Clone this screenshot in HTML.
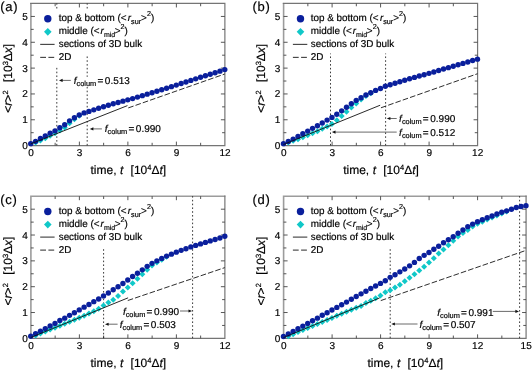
<!DOCTYPE html>
<html><head><meta charset="utf-8"><title>figure</title>
<style>html,body{margin:0;padding:0;background:#fff;}svg text{font-family:"Liberation Sans",sans-serif;text-rendering:geometricPrecision;stroke:#000;stroke-width:0.18px;}</style>
</head><body>
<svg width="532" height="370" viewBox="0 0 532 370" style="display:block;will-change:transform">
<rect width="532" height="370" fill="#fff"/>
<g id="panel-a">
<path d="M30.9 146.2V2.95" fill="none" stroke="#9c9c9c" stroke-width="1.6"/>
<path d="M30.1 145.6H224.88V3.45H30.1" fill="none" stroke="#757575" stroke-width="1.2"/>
<path d="M55.15 145.6v-2.8M55.15 3.45v2.8M79.39 145.6v-4M79.39 3.45v4M103.64 145.6v-2.8M103.64 3.45v2.8M127.89 145.6v-4M127.89 3.45v4M152.14 145.6v-2.8M152.14 3.45v2.8M176.38 145.6v-4M176.38 3.45v4M200.63 145.6v-2.8M200.63 3.45v2.8M30.9 132.69h2.8M224.88 132.69h-2.8M30.9 119.77h4M224.88 119.77h-4M30.9 106.85h2.8M224.88 106.85h-2.8M30.9 93.94h4M224.88 93.94h-4M30.9 81.03h2.8M224.88 81.03h-2.8M30.9 68.11h4M224.88 68.11h-4M30.9 55.19h2.8M224.88 55.19h-2.8M30.9 42.28h4M224.88 42.28h-4M30.9 29.37h2.8M224.88 29.37h-2.8M30.9 16.45h4M224.88 16.45h-4" stroke="#444" stroke-width="0.9" fill="none"/>
<line x1="56.8" y1="8.5" x2="56.8" y2="3.4" stroke="#222" stroke-width="0.9" stroke-dasharray="1.6 2.2"/>
<line x1="56.8" y1="145.45" x2="56.8" y2="66" stroke="#222" stroke-width="0.9" stroke-dasharray="1.6 2.2"/>
<line x1="87.2" y1="8.5" x2="87.2" y2="3.4" stroke="#222" stroke-width="0.9" stroke-dasharray="1.6 2.2"/>
<line x1="87.2" y1="145.45" x2="87.2" y2="54.5" stroke="#222" stroke-width="0.9" stroke-dasharray="1.6 2.2"/>
<path d="M32.6 142.61L35.6 139.61L38.6 142.61L35.6 145.61Z" fill="#10c8c8"/>
<path d="M37.45 140.56L40.45 137.56L43.45 140.56L40.45 143.56Z" fill="#10c8c8"/>
<path d="M42.3 138.26L45.3 135.26L48.3 138.26L45.3 141.26Z" fill="#10c8c8"/>
<path d="M47.15 135.7L50.15 132.7L53.15 135.7L50.15 138.7Z" fill="#10c8c8"/>
<path d="M52.01 133.14L55.01 130.14L58.01 133.14L55.01 136.14Z" fill="#10c8c8"/>
<path d="M56.86 130.58L59.86 127.58L62.86 130.58L59.86 133.58Z" fill="#10c8c8"/>
<path d="M61.71 127.5L64.71 124.5L67.71 127.5L64.71 130.5Z" fill="#10c8c8"/>
<path d="M66.56 123.15L69.56 120.15L72.56 123.15L69.56 126.15Z" fill="#10c8c8"/>
<path d="M71.41 119.31L74.41 116.31L77.41 119.31L74.41 122.31Z" fill="#10c8c8"/>
<path d="M76.26 115.73L79.26 112.73L82.26 115.73L79.26 118.73Z" fill="#10c8c8"/>
<circle cx="30.75" cy="143.63" r="2.7" fill="#0a1f9c"/>
<circle cx="35.6" cy="141.33" r="2.7" fill="#0a1f9c"/>
<circle cx="40.45" cy="138.51" r="2.7" fill="#0a1f9c"/>
<circle cx="45.3" cy="135.95" r="2.7" fill="#0a1f9c"/>
<circle cx="50.15" cy="133.14" r="2.7" fill="#0a1f9c"/>
<circle cx="55.01" cy="130.83" r="2.7" fill="#0a1f9c"/>
<circle cx="59.86" cy="127.76" r="2.7" fill="#0a1f9c"/>
<circle cx="64.71" cy="124.69" r="2.7" fill="#0a1f9c"/>
<circle cx="69.56" cy="120.85" r="2.7" fill="#0a1f9c"/>
<circle cx="74.41" cy="117.78" r="2.7" fill="#0a1f9c"/>
<circle cx="79.26" cy="114.96" r="2.7" fill="#0a1f9c"/>
<circle cx="84.11" cy="112.91" r="2.7" fill="#0a1f9c"/>
<circle cx="88.96" cy="111.38" r="2.7" fill="#0a1f9c"/>
<circle cx="93.81" cy="109.84" r="2.7" fill="#0a1f9c"/>
<circle cx="98.66" cy="108.3" r="2.7" fill="#0a1f9c"/>
<circle cx="103.52" cy="106.77" r="2.7" fill="#0a1f9c"/>
<circle cx="108.37" cy="105.23" r="2.7" fill="#0a1f9c"/>
<circle cx="113.22" cy="103.82" r="2.7" fill="#0a1f9c"/>
<circle cx="118.07" cy="102.54" r="2.7" fill="#0a1f9c"/>
<circle cx="122.92" cy="101.14" r="2.7" fill="#0a1f9c"/>
<circle cx="127.77" cy="99.86" r="2.7" fill="#0a1f9c"/>
<circle cx="132.62" cy="98.58" r="2.7" fill="#0a1f9c"/>
<circle cx="137.47" cy="97.1" r="2.7" fill="#0a1f9c"/>
<circle cx="142.32" cy="95.63" r="2.7" fill="#0a1f9c"/>
<circle cx="147.17" cy="94.16" r="2.7" fill="#0a1f9c"/>
<circle cx="152.03" cy="92.69" r="2.7" fill="#0a1f9c"/>
<circle cx="156.88" cy="91.18" r="2.7" fill="#0a1f9c"/>
<circle cx="161.73" cy="89.68" r="2.7" fill="#0a1f9c"/>
<circle cx="166.58" cy="88.18" r="2.7" fill="#0a1f9c"/>
<circle cx="171.43" cy="86.67" r="2.7" fill="#0a1f9c"/>
<circle cx="176.28" cy="85.1" r="2.7" fill="#0a1f9c"/>
<circle cx="181.13" cy="83.54" r="2.7" fill="#0a1f9c"/>
<circle cx="185.98" cy="81.97" r="2.7" fill="#0a1f9c"/>
<circle cx="190.83" cy="80.4" r="2.7" fill="#0a1f9c"/>
<circle cx="195.68" cy="78.86" r="2.7" fill="#0a1f9c"/>
<circle cx="200.54" cy="77.31" r="2.7" fill="#0a1f9c"/>
<circle cx="205.39" cy="75.77" r="2.7" fill="#0a1f9c"/>
<circle cx="210.24" cy="74.23" r="2.7" fill="#0a1f9c"/>
<circle cx="215.09" cy="72.68" r="2.7" fill="#0a1f9c"/>
<circle cx="219.94" cy="71.14" r="2.7" fill="#0a1f9c"/>
<circle cx="224.79" cy="69.6" r="2.7" fill="#0a1f9c"/>
<line x1="128.26" y1="107.92" x2="224.79" y2="74" stroke="#222" stroke-width="0.95" stroke-dasharray="5.6 2.1"/>
<line x1="30.75" y1="143.9" x2="127.45" y2="105.62" stroke="#111" stroke-width="0.9"/>
<g font-size="10" fill="#000">
<text x="31" y="156.3" text-anchor="middle">0</text>
<text x="79.49" y="156.3" text-anchor="middle">3</text>
<text x="127.99" y="156.3" text-anchor="middle">6</text>
<text x="176.48" y="156.3" text-anchor="middle">9</text>
<text x="224.98" y="156.3" text-anchor="middle">12</text>
<text x="27.7" y="149.1" text-anchor="end">0</text>
<text x="27.7" y="123.27" text-anchor="end">1</text>
<text x="27.7" y="97.44" text-anchor="end">2</text>
<text x="27.7" y="71.61" text-anchor="end">3</text>
<text x="27.7" y="45.78" text-anchor="end">4</text>
<text x="27.7" y="19.95" text-anchor="end">5</text>
</g>
<text font-size="12" fill="#000" y="174.45"><tspan x="90.49">time, </tspan><tspan font-style="italic" x="119.99">t</tspan><tspan x="130.59">[10</tspan><tspan font-size="7.5" dy="-4.3">4</tspan><tspan dy="4.3">Δ</tspan><tspan font-style="italic">t</tspan><tspan>]</tspan></text>
<g transform="translate(12.3 112.65) rotate(-90)"><text font-size="12" fill="#000" y="0"><tspan x="0">&lt;</tspan><tspan font-style="italic">r</tspan><tspan>&gt;</tspan><tspan font-size="7.5" dy="-4.3">2</tspan><tspan dy="4.3" x="30.6">[10</tspan><tspan font-size="7.5" dy="-4.3">3</tspan><tspan dy="4.3">Δ</tspan><tspan font-style="italic">x</tspan><tspan>]</tspan></text></g>
<text font-size="13" letter-spacing="0.7" fill="#000" x="0.2" y="10.8">(a)</text>
<circle cx="47.8" cy="18.75" r="3.7" fill="#0a1f9c"/>
<path d="M44 31.85L47.8 28.05L51.6 31.85L47.8 35.65Z" fill="#10c8c8"/>
<line x1="40.2" y1="44.35" x2="54.6" y2="44.35" stroke="#111" stroke-width="0.9"/>
<line x1="40.2" y1="57.35" x2="54.3" y2="57.35" stroke="#111" stroke-width="0.9" stroke-dasharray="5.8 2.4"/>
<g font-size="9.9" fill="#000">
<text x="58.7" y="21.45">top &amp; bottom (&lt;<tspan dx="1.3" font-style="italic">r</tspan><tspan font-size="7.2" dy="2.5">sur</tspan><tspan dy="-2.5">&gt;</tspan><tspan font-size="7.2" dy="-5">2</tspan><tspan dy="5">)</tspan></text>
<text x="58.7" y="34.35">middle (&lt;<tspan dx="1.0" font-style="italic">r</tspan><tspan font-size="7.0" dy="2.5">mid</tspan><tspan dy="-2.5" dx="-0.4">&gt;</tspan><tspan font-size="7.2" dy="-5">2</tspan><tspan dy="5">)</tspan></text>
<text x="58.7" y="47.45">sections of 3D bulk</text>
<text x="58.7" y="60.15">2D</text>
</g>
</g>
<g id="panel-b">
<path d="M283.6 146.2V2.95" fill="none" stroke="#9c9c9c" stroke-width="1.6"/>
<path d="M282.8 145.6H477.58V3.45H282.8" fill="none" stroke="#757575" stroke-width="1.2"/>
<path d="M307.85 145.6v-2.8M307.85 3.45v2.8M332.1 145.6v-4M332.1 3.45v4M356.34 145.6v-2.8M356.34 3.45v2.8M380.59 145.6v-4M380.59 3.45v4M404.84 145.6v-2.8M404.84 3.45v2.8M429.09 145.6v-4M429.09 3.45v4M453.33 145.6v-2.8M453.33 3.45v2.8M283.6 132.69h2.8M477.58 132.69h-2.8M283.6 119.77h4M477.58 119.77h-4M283.6 106.85h2.8M477.58 106.85h-2.8M283.6 93.94h4M477.58 93.94h-4M283.6 81.03h2.8M477.58 81.03h-2.8M283.6 68.11h4M477.58 68.11h-4M283.6 55.19h2.8M477.58 55.19h-2.8M283.6 42.28h4M477.58 42.28h-4M283.6 29.37h2.8M477.58 29.37h-2.8M283.6 16.45h4M477.58 16.45h-4" stroke="#444" stroke-width="0.9" fill="none"/>
<line x1="330.5" y1="145.45" x2="330.5" y2="53.5" stroke="#222" stroke-width="0.9" stroke-dasharray="1.6 2.2"/>
<line x1="385.6" y1="145.45" x2="385.6" y2="53.5" stroke="#222" stroke-width="0.9" stroke-dasharray="1.6 2.2"/>
<path d="M285.3 142.61L288.3 139.61L291.3 142.61L288.3 145.61Z" fill="#10c8c8"/>
<path d="M290.15 140.82L293.15 137.82L296.15 140.82L293.15 143.82Z" fill="#10c8c8"/>
<path d="M295 139.22L298 136.22L301 139.22L298 142.22Z" fill="#10c8c8"/>
<path d="M299.85 137.23L302.85 134.23L305.85 137.23L302.85 140.23Z" fill="#10c8c8"/>
<path d="M304.71 135.25L307.71 132.25L310.71 135.25L307.71 138.25Z" fill="#10c8c8"/>
<path d="M309.56 133.26L312.56 130.26L315.56 133.26L312.56 136.26Z" fill="#10c8c8"/>
<path d="M314.41 131.28L317.41 128.28L320.41 131.28L317.41 134.28Z" fill="#10c8c8"/>
<path d="M319.26 128.78L322.26 125.78L325.26 128.78L322.26 131.78Z" fill="#10c8c8"/>
<path d="M324.11 126.48L327.11 123.48L330.11 126.48L327.11 129.48Z" fill="#10c8c8"/>
<path d="M328.96 123.92L331.96 120.92L334.96 123.92L331.96 126.92Z" fill="#10c8c8"/>
<path d="M333.81 120.34L336.81 117.34L339.81 120.34L336.81 123.34Z" fill="#10c8c8"/>
<path d="M338.66 115.98L341.66 112.98L344.66 115.98L341.66 118.98Z" fill="#10c8c8"/>
<path d="M343.51 111.71L346.51 108.71L349.51 111.71L346.51 114.71Z" fill="#10c8c8"/>
<path d="M348.36 107.43L351.36 104.43L354.36 107.43L351.36 110.43Z" fill="#10c8c8"/>
<path d="M353.22 103.44L356.22 100.44L359.22 103.44L356.22 106.44Z" fill="#10c8c8"/>
<path d="M358.07 99.45L361.07 96.45L364.07 99.45L361.07 102.45Z" fill="#10c8c8"/>
<path d="M362.92 96.02L365.92 93.02L368.92 96.02L365.92 99.02Z" fill="#10c8c8"/>
<path d="M367.77 93.2L370.77 90.2L373.77 93.2L370.77 96.2Z" fill="#10c8c8"/>
<circle cx="283.45" cy="143.63" r="2.7" fill="#0a1f9c"/>
<circle cx="288.3" cy="141.51" r="2.7" fill="#0a1f9c"/>
<circle cx="293.15" cy="139.1" r="2.7" fill="#0a1f9c"/>
<circle cx="298" cy="136.4" r="2.7" fill="#0a1f9c"/>
<circle cx="302.85" cy="133.72" r="2.7" fill="#0a1f9c"/>
<circle cx="307.71" cy="131.09" r="2.7" fill="#0a1f9c"/>
<circle cx="312.56" cy="128.37" r="2.7" fill="#0a1f9c"/>
<circle cx="317.41" cy="125.71" r="2.7" fill="#0a1f9c"/>
<circle cx="322.26" cy="123.02" r="2.7" fill="#0a1f9c"/>
<circle cx="327.11" cy="120.08" r="2.7" fill="#0a1f9c"/>
<circle cx="331.96" cy="117.42" r="2.7" fill="#0a1f9c"/>
<circle cx="336.81" cy="114.27" r="2.7" fill="#0a1f9c"/>
<circle cx="341.66" cy="110.86" r="2.7" fill="#0a1f9c"/>
<circle cx="346.51" cy="107.2" r="2.7" fill="#0a1f9c"/>
<circle cx="351.36" cy="103.8" r="2.7" fill="#0a1f9c"/>
<circle cx="356.22" cy="100.39" r="2.7" fill="#0a1f9c"/>
<circle cx="361.07" cy="97.71" r="2.7" fill="#0a1f9c"/>
<circle cx="365.92" cy="94.99" r="2.7" fill="#0a1f9c"/>
<circle cx="370.77" cy="92.69" r="2.7" fill="#0a1f9c"/>
<circle cx="375.62" cy="90.38" r="2.7" fill="#0a1f9c"/>
<circle cx="380.47" cy="88.46" r="2.7" fill="#0a1f9c"/>
<circle cx="385.32" cy="86.29" r="2.7" fill="#0a1f9c"/>
<circle cx="390.17" cy="84.78" r="2.7" fill="#0a1f9c"/>
<circle cx="395.02" cy="83.27" r="2.7" fill="#0a1f9c"/>
<circle cx="399.87" cy="81.76" r="2.7" fill="#0a1f9c"/>
<circle cx="404.73" cy="80.25" r="2.7" fill="#0a1f9c"/>
<circle cx="409.58" cy="78.74" r="2.7" fill="#0a1f9c"/>
<circle cx="414.43" cy="77.39" r="2.7" fill="#0a1f9c"/>
<circle cx="419.28" cy="76.05" r="2.7" fill="#0a1f9c"/>
<circle cx="424.13" cy="74.7" r="2.7" fill="#0a1f9c"/>
<circle cx="428.98" cy="73.36" r="2.7" fill="#0a1f9c"/>
<circle cx="433.83" cy="71.93" r="2.7" fill="#0a1f9c"/>
<circle cx="438.68" cy="70.49" r="2.7" fill="#0a1f9c"/>
<circle cx="443.53" cy="69.06" r="2.7" fill="#0a1f9c"/>
<circle cx="448.38" cy="67.63" r="2.7" fill="#0a1f9c"/>
<circle cx="453.24" cy="66.19" r="2.7" fill="#0a1f9c"/>
<circle cx="458.09" cy="64.78" r="2.7" fill="#0a1f9c"/>
<circle cx="462.94" cy="63.38" r="2.7" fill="#0a1f9c"/>
<circle cx="467.79" cy="61.97" r="2.7" fill="#0a1f9c"/>
<circle cx="472.64" cy="60.56" r="2.7" fill="#0a1f9c"/>
<circle cx="477.49" cy="59.15" r="2.7" fill="#0a1f9c"/>
<line x1="380.96" y1="107.79" x2="477.49" y2="73.74" stroke="#222" stroke-width="0.95" stroke-dasharray="5.6 2.1"/>
<line x1="283.45" y1="144.5" x2="380.15" y2="105.23" stroke="#111" stroke-width="0.9"/>
<g font-size="10" fill="#000">
<text x="283.7" y="156.3" text-anchor="middle">0</text>
<text x="332.2" y="156.3" text-anchor="middle">3</text>
<text x="380.69" y="156.3" text-anchor="middle">6</text>
<text x="429.19" y="156.3" text-anchor="middle">9</text>
<text x="477.68" y="156.3" text-anchor="middle">12</text>
<text x="280.4" y="149.1" text-anchor="end">0</text>
<text x="280.4" y="123.27" text-anchor="end">1</text>
<text x="280.4" y="97.44" text-anchor="end">2</text>
<text x="280.4" y="71.61" text-anchor="end">3</text>
<text x="280.4" y="45.78" text-anchor="end">4</text>
<text x="280.4" y="19.95" text-anchor="end">5</text>
</g>
<text font-size="12" fill="#000" y="174.45"><tspan x="343.19">time, </tspan><tspan font-style="italic" x="372.69">t</tspan><tspan x="383.29">[10</tspan><tspan font-size="7.5" dy="-4.3">4</tspan><tspan dy="4.3">Δ</tspan><tspan font-style="italic">t</tspan><tspan>]</tspan></text>
<g transform="translate(265 112.65) rotate(-90)"><text font-size="12" fill="#000" y="0"><tspan x="0">&lt;</tspan><tspan font-style="italic">r</tspan><tspan>&gt;</tspan><tspan font-size="7.5" dy="-4.3">2</tspan><tspan dy="4.3" x="30.6">[10</tspan><tspan font-size="7.5" dy="-4.3">3</tspan><tspan dy="4.3">Δ</tspan><tspan font-style="italic">x</tspan><tspan>]</tspan></text></g>
<text font-size="13" letter-spacing="0.7" fill="#000" x="252.5" y="10.8">(b)</text>
<circle cx="300.5" cy="18.75" r="3.7" fill="#0a1f9c"/>
<path d="M296.7 31.85L300.5 28.05L304.3 31.85L300.5 35.65Z" fill="#10c8c8"/>
<line x1="292.9" y1="44.35" x2="307.3" y2="44.35" stroke="#111" stroke-width="0.9"/>
<line x1="292.9" y1="57.35" x2="307" y2="57.35" stroke="#111" stroke-width="0.9" stroke-dasharray="5.8 2.4"/>
<g font-size="9.9" fill="#000">
<text x="310.8" y="21.45">top &amp; bottom (&lt;<tspan dx="1.3" font-style="italic">r</tspan><tspan font-size="7.2" dy="2.5">sur</tspan><tspan dy="-2.5">&gt;</tspan><tspan font-size="7.2" dy="-5">2</tspan><tspan dy="5">)</tspan></text>
<text x="310.8" y="34.35">middle (&lt;<tspan dx="1.0" font-style="italic">r</tspan><tspan font-size="7.0" dy="2.5">mid</tspan><tspan dy="-2.5" dx="-0.4">&gt;</tspan><tspan font-size="7.2" dy="-5">2</tspan><tspan dy="5">)</tspan></text>
<text x="310.8" y="47.45">sections of 3D bulk</text>
<text x="310.8" y="60.15">2D</text>
</g>
</g>
<g id="panel-c">
<path d="M30.9 338.95V196.2H225.38" fill="none" stroke="#9c9c9c" stroke-width="1.6"/>
<path d="M30.1 338.35H224.88V195.4" fill="none" stroke="#757575" stroke-width="1.2"/>
<path d="M55.15 338.35v-2.8M55.15 196.2v2.8M79.39 338.35v-4M79.39 196.2v4M103.64 338.35v-2.8M103.64 196.2v2.8M127.89 338.35v-4M127.89 196.2v4M152.14 338.35v-2.8M152.14 196.2v2.8M176.38 338.35v-4M176.38 196.2v4M200.63 338.35v-2.8M200.63 196.2v2.8M30.9 325.44h2.8M224.88 325.44h-2.8M30.9 312.52h4M224.88 312.52h-4M30.9 299.61h2.8M224.88 299.61h-2.8M30.9 286.69h4M224.88 286.69h-4M30.9 273.78h2.8M224.88 273.78h-2.8M30.9 260.86h4M224.88 260.86h-4M30.9 247.95h2.8M224.88 247.95h-2.8M30.9 235.03h4M224.88 235.03h-4M30.9 222.12h2.8M224.88 222.12h-2.8M30.9 209.2h4M224.88 209.2h-4" stroke="#444" stroke-width="0.9" fill="none"/>
<line x1="103.6" y1="338.2" x2="103.6" y2="247" stroke="#222" stroke-width="0.9" stroke-dasharray="1.6 2.2"/>
<line x1="192.6" y1="338.2" x2="192.6" y2="196.15" stroke="#222" stroke-width="0.9" stroke-dasharray="1.6 2.2"/>
<path d="M32.6 335.54L35.6 332.54L38.6 335.54L35.6 338.54Z" fill="#10c8c8"/>
<path d="M37.45 333.56L40.45 330.56L43.45 333.56L40.45 336.56Z" fill="#10c8c8"/>
<path d="M42.3 331.58L45.3 328.58L48.3 331.58L45.3 334.58Z" fill="#10c8c8"/>
<path d="M47.15 329.61L50.15 326.61L53.15 329.61L50.15 332.61Z" fill="#10c8c8"/>
<path d="M52.01 327.63L55.01 324.63L58.01 327.63L55.01 330.63Z" fill="#10c8c8"/>
<path d="M56.86 325.65L59.86 322.65L62.86 325.65L59.86 328.65Z" fill="#10c8c8"/>
<path d="M61.71 323.68L64.71 320.68L67.71 323.68L64.71 326.68Z" fill="#10c8c8"/>
<path d="M66.56 321.7L69.56 318.7L72.56 321.7L69.56 324.7Z" fill="#10c8c8"/>
<path d="M71.41 319.73L74.41 316.73L77.41 319.73L74.41 322.73Z" fill="#10c8c8"/>
<path d="M76.26 317.75L79.26 314.75L82.26 317.75L79.26 320.75Z" fill="#10c8c8"/>
<path d="M81.11 315.75L84.11 312.75L87.11 315.75L84.11 318.75Z" fill="#10c8c8"/>
<path d="M85.96 313.58L88.96 310.58L91.96 313.58L88.96 316.58Z" fill="#10c8c8"/>
<path d="M90.81 311.14L93.81 308.14L96.81 311.14L93.81 314.14Z" fill="#10c8c8"/>
<path d="M95.66 308.71L98.66 305.71L101.66 308.71L98.66 311.71Z" fill="#10c8c8"/>
<path d="M100.52 305.51L103.52 302.51L106.52 305.51L103.52 308.51Z" fill="#10c8c8"/>
<path d="M105.37 302.57L108.37 299.57L111.37 302.57L108.37 305.57Z" fill="#10c8c8"/>
<path d="M110.22 299.7L113.22 296.7L116.22 299.7L113.22 302.7Z" fill="#10c8c8"/>
<path d="M115.07 296.04L118.07 293.04L121.07 296.04L118.07 299.04Z" fill="#10c8c8"/>
<path d="M119.92 291.51L122.92 288.51L125.92 291.51L122.92 294.51Z" fill="#10c8c8"/>
<path d="M124.77 287.41L127.77 284.41L130.77 287.41L127.77 290.41Z" fill="#10c8c8"/>
<path d="M129.62 283.16L132.62 280.16L135.62 283.16L132.62 286.16Z" fill="#10c8c8"/>
<path d="M134.47 278.68L137.47 275.68L140.47 278.68L137.47 281.68Z" fill="#10c8c8"/>
<path d="M139.32 274.23L142.32 271.23L145.32 274.23L142.32 277.23Z" fill="#10c8c8"/>
<path d="M144.17 269.67L147.17 266.67L150.17 269.67L147.17 272.67Z" fill="#10c8c8"/>
<path d="M149.03 265.58L152.03 262.58L155.03 265.58L152.03 268.58Z" fill="#10c8c8"/>
<path d="M153.88 262.5L156.88 259.5L159.88 262.5L156.88 265.5Z" fill="#10c8c8"/>
<path d="M158.73 259.69L161.73 256.69L164.73 259.69L161.73 262.69Z" fill="#10c8c8"/>
<path d="M163.58 256.87L166.58 253.87L169.58 256.87L166.58 259.87Z" fill="#10c8c8"/>
<circle cx="30.75" cy="336.31" r="2.7" fill="#0a1f9c"/>
<circle cx="35.6" cy="333.8" r="2.7" fill="#0a1f9c"/>
<circle cx="40.45" cy="331.29" r="2.7" fill="#0a1f9c"/>
<circle cx="45.3" cy="328.58" r="2.7" fill="#0a1f9c"/>
<circle cx="50.15" cy="325.89" r="2.7" fill="#0a1f9c"/>
<circle cx="55.01" cy="323.38" r="2.7" fill="#0a1f9c"/>
<circle cx="59.86" cy="320.56" r="2.7" fill="#0a1f9c"/>
<circle cx="64.71" cy="318.16" r="2.7" fill="#0a1f9c"/>
<circle cx="69.56" cy="315.37" r="2.7" fill="#0a1f9c"/>
<circle cx="74.41" cy="312.68" r="2.7" fill="#0a1f9c"/>
<circle cx="79.26" cy="309.89" r="2.7" fill="#0a1f9c"/>
<circle cx="84.11" cy="307.15" r="2.7" fill="#0a1f9c"/>
<circle cx="88.96" cy="304.44" r="2.7" fill="#0a1f9c"/>
<circle cx="93.81" cy="301.67" r="2.7" fill="#0a1f9c"/>
<circle cx="98.66" cy="298.93" r="2.7" fill="#0a1f9c"/>
<circle cx="103.52" cy="295.91" r="2.7" fill="#0a1f9c"/>
<circle cx="108.37" cy="292.97" r="2.7" fill="#0a1f9c"/>
<circle cx="113.22" cy="289.72" r="2.7" fill="#0a1f9c"/>
<circle cx="118.07" cy="286.7" r="2.7" fill="#0a1f9c"/>
<circle cx="122.92" cy="283.5" r="2.7" fill="#0a1f9c"/>
<circle cx="127.77" cy="279.99" r="2.7" fill="#0a1f9c"/>
<circle cx="132.62" cy="276.48" r="2.7" fill="#0a1f9c"/>
<circle cx="137.47" cy="273.31" r="2.7" fill="#0a1f9c"/>
<circle cx="142.32" cy="269.83" r="2.7" fill="#0a1f9c"/>
<circle cx="147.17" cy="266.34" r="2.7" fill="#0a1f9c"/>
<circle cx="152.03" cy="263.35" r="2.7" fill="#0a1f9c"/>
<circle cx="156.88" cy="260.84" r="2.7" fill="#0a1f9c"/>
<circle cx="161.73" cy="258.41" r="2.7" fill="#0a1f9c"/>
<circle cx="166.58" cy="256.1" r="2.7" fill="#0a1f9c"/>
<circle cx="171.43" cy="254.13" r="2.7" fill="#0a1f9c"/>
<circle cx="176.28" cy="252.14" r="2.7" fill="#0a1f9c"/>
<circle cx="181.13" cy="250.37" r="2.7" fill="#0a1f9c"/>
<circle cx="185.98" cy="248.68" r="2.7" fill="#0a1f9c"/>
<circle cx="190.83" cy="246.89" r="2.7" fill="#0a1f9c"/>
<circle cx="195.68" cy="245.4" r="2.7" fill="#0a1f9c"/>
<circle cx="200.54" cy="243.92" r="2.7" fill="#0a1f9c"/>
<circle cx="205.39" cy="242.41" r="2.7" fill="#0a1f9c"/>
<circle cx="210.24" cy="240.92" r="2.7" fill="#0a1f9c"/>
<circle cx="215.09" cy="239.46" r="2.7" fill="#0a1f9c"/>
<circle cx="219.94" cy="237.93" r="2.7" fill="#0a1f9c"/>
<circle cx="224.79" cy="236.19" r="2.7" fill="#0a1f9c"/>
<line x1="127.77" y1="300.52" x2="224.79" y2="267.62" stroke="#222" stroke-width="0.95" stroke-dasharray="5.6 2.1"/>
<line x1="30.75" y1="337.5" x2="128.09" y2="297.83" stroke="#111" stroke-width="0.9"/>
<g font-size="10" fill="#000">
<text x="31" y="349.05" text-anchor="middle">0</text>
<text x="79.49" y="349.05" text-anchor="middle">3</text>
<text x="127.99" y="349.05" text-anchor="middle">6</text>
<text x="176.48" y="349.05" text-anchor="middle">9</text>
<text x="224.98" y="349.05" text-anchor="middle">12</text>
<text x="27.7" y="341.85" text-anchor="end">0</text>
<text x="27.7" y="316.02" text-anchor="end">1</text>
<text x="27.7" y="290.19" text-anchor="end">2</text>
<text x="27.7" y="264.36" text-anchor="end">3</text>
<text x="27.7" y="238.53" text-anchor="end">4</text>
<text x="27.7" y="212.7" text-anchor="end">5</text>
</g>
<text font-size="12" fill="#000" y="367.2"><tspan x="90.49">time, </tspan><tspan font-style="italic" x="119.99">t</tspan><tspan x="130.59">[10</tspan><tspan font-size="7.5" dy="-4.3">4</tspan><tspan dy="4.3">Δ</tspan><tspan font-style="italic">t</tspan><tspan>]</tspan></text>
<g transform="translate(12.3 305.4) rotate(-90)"><text font-size="12" fill="#000" y="0"><tspan x="0">&lt;</tspan><tspan font-style="italic">r</tspan><tspan>&gt;</tspan><tspan font-size="7.5" dy="-4.3">2</tspan><tspan dy="4.3" x="30.6">[10</tspan><tspan font-size="7.5" dy="-4.3">3</tspan><tspan dy="4.3">Δ</tspan><tspan font-style="italic">x</tspan><tspan>]</tspan></text></g>
<text font-size="13" letter-spacing="0.7" fill="#000" x="0.2" y="203.6">(c)</text>
<circle cx="47.8" cy="211.5" r="3.7" fill="#0a1f9c"/>
<path d="M44 224.6L47.8 220.8L51.6 224.6L47.8 228.4Z" fill="#10c8c8"/>
<line x1="40.2" y1="237.1" x2="54.6" y2="237.1" stroke="#111" stroke-width="0.9"/>
<line x1="40.2" y1="250.1" x2="54.3" y2="250.1" stroke="#111" stroke-width="0.9" stroke-dasharray="5.8 2.4"/>
<g font-size="9.9" fill="#000">
<text x="58.7" y="214.2">top &amp; bottom (&lt;<tspan dx="1.3" font-style="italic">r</tspan><tspan font-size="7.2" dy="2.5">sur</tspan><tspan dy="-2.5">&gt;</tspan><tspan font-size="7.2" dy="-5">2</tspan><tspan dy="5">)</tspan></text>
<text x="58.7" y="227.1">middle (&lt;<tspan dx="1.0" font-style="italic">r</tspan><tspan font-size="7.0" dy="2.5">mid</tspan><tspan dy="-2.5" dx="-0.4">&gt;</tspan><tspan font-size="7.2" dy="-5">2</tspan><tspan dy="5">)</tspan></text>
<text x="58.7" y="240.2">sections of 3D bulk</text>
<text x="58.7" y="252.9">2D</text>
</g>
</g>
<g id="panel-d">
<path d="M283.6 338.95V196.2H526.58" fill="none" stroke="#9c9c9c" stroke-width="1.6"/>
<path d="M282.8 338.35H526.08V195.4" fill="none" stroke="#757575" stroke-width="1.2"/>
<path d="M307.85 338.35v-2.8M307.85 196.2v2.8M332.1 338.35v-4M332.1 196.2v4M356.34 338.35v-2.8M356.34 196.2v2.8M380.59 338.35v-4M380.59 196.2v4M404.84 338.35v-2.8M404.84 196.2v2.8M429.09 338.35v-4M429.09 196.2v4M453.33 338.35v-2.8M453.33 196.2v2.8M477.58 338.35v-4M477.58 196.2v4M501.83 338.35v-2.8M501.83 196.2v2.8M283.6 325.44h2.8M526.08 325.44h-2.8M283.6 312.52h4M526.08 312.52h-4M283.6 299.61h2.8M526.08 299.61h-2.8M283.6 286.69h4M526.08 286.69h-4M283.6 273.78h2.8M526.08 273.78h-2.8M283.6 260.86h4M526.08 260.86h-4M283.6 247.95h2.8M526.08 247.95h-2.8M283.6 235.03h4M526.08 235.03h-4M283.6 222.12h2.8M526.08 222.12h-2.8M283.6 209.2h4M526.08 209.2h-4" stroke="#444" stroke-width="0.9" fill="none"/>
<line x1="390.2" y1="338.2" x2="390.2" y2="247" stroke="#222" stroke-width="0.9" stroke-dasharray="1.6 2.2"/>
<line x1="519.6" y1="338.2" x2="519.6" y2="196.15" stroke="#222" stroke-width="0.9" stroke-dasharray="1.6 2.2"/>
<path d="M285.3 336.17L288.3 333.17L291.3 336.17L288.3 339.17Z" fill="#10c8c8"/>
<path d="M290.15 334.14L293.15 331.14L296.15 334.14L293.15 337.14Z" fill="#10c8c8"/>
<path d="M295 332.11L298 329.11L301 332.11L298 335.11Z" fill="#10c8c8"/>
<path d="M299.85 330.07L302.85 327.07L305.85 330.07L302.85 333.07Z" fill="#10c8c8"/>
<path d="M304.71 328.04L307.71 325.04L310.71 328.04L307.71 331.04Z" fill="#10c8c8"/>
<path d="M309.56 326.01L312.56 323.01L315.56 326.01L312.56 329.01Z" fill="#10c8c8"/>
<path d="M314.41 323.97L317.41 320.97L320.41 323.97L317.41 326.97Z" fill="#10c8c8"/>
<path d="M319.26 321.94L322.26 318.94L325.26 321.94L322.26 324.94Z" fill="#10c8c8"/>
<path d="M324.11 319.91L327.11 316.91L330.11 319.91L327.11 322.91Z" fill="#10c8c8"/>
<path d="M328.96 317.88L331.96 314.88L334.96 317.88L331.96 320.88Z" fill="#10c8c8"/>
<path d="M333.81 315.84L336.81 312.84L339.81 315.84L336.81 318.84Z" fill="#10c8c8"/>
<path d="M338.66 313.81L341.66 310.81L344.66 313.81L341.66 316.81Z" fill="#10c8c8"/>
<path d="M343.51 311.78L346.51 308.78L349.51 311.78L346.51 314.78Z" fill="#10c8c8"/>
<path d="M348.36 309.75L351.36 306.75L354.36 309.75L351.36 312.75Z" fill="#10c8c8"/>
<path d="M353.22 307.71L356.22 304.71L359.22 307.71L356.22 310.71Z" fill="#10c8c8"/>
<path d="M358.07 305.9L361.07 302.9L364.07 305.9L361.07 308.9Z" fill="#10c8c8"/>
<path d="M362.92 302.95L365.92 299.95L368.92 302.95L365.92 305.95Z" fill="#10c8c8"/>
<path d="M367.77 300.65L370.77 297.65L373.77 300.65L370.77 303.65Z" fill="#10c8c8"/>
<path d="M372.62 298.19L375.62 295.19L378.62 298.19L375.62 301.19Z" fill="#10c8c8"/>
<path d="M377.47 295.53L380.47 292.53L383.47 295.53L380.47 298.53Z" fill="#10c8c8"/>
<path d="M382.32 292.33L385.32 289.33L388.32 292.33L385.32 295.33Z" fill="#10c8c8"/>
<path d="M387.17 290.28L390.17 287.28L393.17 290.28L390.17 293.28Z" fill="#10c8c8"/>
<path d="M392.02 287.46L395.02 284.46L398.02 287.46L395.02 290.46Z" fill="#10c8c8"/>
<path d="M396.87 284.78L399.87 281.78L402.87 284.78L399.87 287.78Z" fill="#10c8c8"/>
<path d="M401.73 281.29L404.73 278.29L407.73 281.29L404.73 284.29Z" fill="#10c8c8"/>
<path d="M406.58 277.71L409.58 274.71L412.58 277.71L409.58 280.71Z" fill="#10c8c8"/>
<path d="M411.43 274.28L414.43 271.28L417.43 274.28L414.43 277.28Z" fill="#10c8c8"/>
<path d="M416.28 270.52L419.28 267.52L422.28 270.52L419.28 273.52Z" fill="#10c8c8"/>
<path d="M421.13 266.73L424.13 263.73L427.13 266.73L424.13 269.73Z" fill="#10c8c8"/>
<path d="M425.98 262.38L428.98 259.38L431.98 262.38L428.98 265.38Z" fill="#10c8c8"/>
<path d="M430.83 258.23L433.83 255.23L436.83 258.23L433.83 261.23Z" fill="#10c8c8"/>
<path d="M435.68 253.47L438.68 250.47L441.68 253.47L438.68 256.47Z" fill="#10c8c8"/>
<path d="M440.53 249.45L443.53 246.45L446.53 249.45L443.53 252.45Z" fill="#10c8c8"/>
<path d="M445.38 245.22L448.38 242.22L451.38 245.22L448.38 248.22Z" fill="#10c8c8"/>
<path d="M450.24 240.82L453.24 237.82L456.24 240.82L453.24 243.82Z" fill="#10c8c8"/>
<path d="M455.09 236.39L458.09 233.39L461.09 236.39L458.09 239.39Z" fill="#10c8c8"/>
<path d="M459.94 233.06L462.94 230.06L465.94 233.06L462.94 236.06Z" fill="#10c8c8"/>
<path d="M464.79 229.99L467.79 226.99L470.79 229.99L467.79 232.99Z" fill="#10c8c8"/>
<path d="M469.64 226.48L472.64 223.48L475.64 226.48L472.64 229.48Z" fill="#10c8c8"/>
<path d="M474.49 223.85L477.49 220.85L480.49 223.85L477.49 226.85Z" fill="#10c8c8"/>
<path d="M479.34 221.8L482.34 218.8L485.34 221.8L482.34 224.8Z" fill="#10c8c8"/>
<path d="M484.19 219.57L487.19 216.57L490.19 219.57L487.19 222.57Z" fill="#10c8c8"/>
<path d="M489.04 217.45L492.04 214.45L495.04 217.45L492.04 220.45Z" fill="#10c8c8"/>
<path d="M493.89 215.4L496.89 212.4L499.89 215.4L496.89 218.4Z" fill="#10c8c8"/>
<path d="M498.75 213.45L501.75 210.45L504.75 213.45L501.75 216.45Z" fill="#10c8c8"/>
<path d="M503.6 211.56L506.6 208.56L509.6 211.56L506.6 214.56Z" fill="#10c8c8"/>
<circle cx="283.45" cy="336.49" r="2.7" fill="#0a1f9c"/>
<circle cx="288.3" cy="333.93" r="2.7" fill="#0a1f9c"/>
<circle cx="293.15" cy="331.42" r="2.7" fill="#0a1f9c"/>
<circle cx="298" cy="328.78" r="2.7" fill="#0a1f9c"/>
<circle cx="302.85" cy="326.12" r="2.7" fill="#0a1f9c"/>
<circle cx="307.71" cy="323.48" r="2.7" fill="#0a1f9c"/>
<circle cx="312.56" cy="320.82" r="2.7" fill="#0a1f9c"/>
<circle cx="317.41" cy="318.16" r="2.7" fill="#0a1f9c"/>
<circle cx="322.26" cy="315.32" r="2.7" fill="#0a1f9c"/>
<circle cx="327.11" cy="312.68" r="2.7" fill="#0a1f9c"/>
<circle cx="331.96" cy="310.02" r="2.7" fill="#0a1f9c"/>
<circle cx="336.81" cy="307.38" r="2.7" fill="#0a1f9c"/>
<circle cx="341.66" cy="304.74" r="2.7" fill="#0a1f9c"/>
<circle cx="346.51" cy="302.08" r="2.7" fill="#0a1f9c"/>
<circle cx="351.36" cy="299.24" r="2.7" fill="#0a1f9c"/>
<circle cx="356.22" cy="296.55" r="2.7" fill="#0a1f9c"/>
<circle cx="361.07" cy="293.86" r="2.7" fill="#0a1f9c"/>
<circle cx="365.92" cy="291.18" r="2.7" fill="#0a1f9c"/>
<circle cx="370.77" cy="288.49" r="2.7" fill="#0a1f9c"/>
<circle cx="375.62" cy="286.06" r="2.7" fill="#0a1f9c"/>
<circle cx="380.47" cy="283.39" r="2.7" fill="#0a1f9c"/>
<circle cx="385.32" cy="280.76" r="2.7" fill="#0a1f9c"/>
<circle cx="390.17" cy="277.35" r="2.7" fill="#0a1f9c"/>
<circle cx="395.02" cy="274.69" r="2.7" fill="#0a1f9c"/>
<circle cx="399.87" cy="271.85" r="2.7" fill="#0a1f9c"/>
<circle cx="404.73" cy="268.98" r="2.7" fill="#0a1f9c"/>
<circle cx="409.58" cy="265.83" r="2.7" fill="#0a1f9c"/>
<circle cx="414.43" cy="262.38" r="2.7" fill="#0a1f9c"/>
<circle cx="419.28" cy="258.56" r="2.7" fill="#0a1f9c"/>
<circle cx="424.13" cy="255.34" r="2.7" fill="#0a1f9c"/>
<circle cx="428.98" cy="252.52" r="2.7" fill="#0a1f9c"/>
<circle cx="433.83" cy="249.29" r="2.7" fill="#0a1f9c"/>
<circle cx="438.68" cy="246.27" r="2.7" fill="#0a1f9c"/>
<circle cx="443.53" cy="242.79" r="2.7" fill="#0a1f9c"/>
<circle cx="448.38" cy="239.72" r="2.7" fill="#0a1f9c"/>
<circle cx="453.24" cy="236.78" r="2.7" fill="#0a1f9c"/>
<circle cx="458.09" cy="233.19" r="2.7" fill="#0a1f9c"/>
<circle cx="462.94" cy="229.99" r="2.7" fill="#0a1f9c"/>
<circle cx="467.79" cy="226.66" r="2.7" fill="#0a1f9c"/>
<circle cx="472.64" cy="224.1" r="2.7" fill="#0a1f9c"/>
<circle cx="477.49" cy="221.8" r="2.7" fill="#0a1f9c"/>
<circle cx="482.34" cy="219.68" r="2.7" fill="#0a1f9c"/>
<circle cx="487.19" cy="217.78" r="2.7" fill="#0a1f9c"/>
<circle cx="492.04" cy="216.07" r="2.7" fill="#0a1f9c"/>
<circle cx="496.89" cy="213.97" r="2.7" fill="#0a1f9c"/>
<circle cx="501.75" cy="212.25" r="2.7" fill="#0a1f9c"/>
<circle cx="506.6" cy="210.87" r="2.7" fill="#0a1f9c"/>
<circle cx="511.45" cy="209.31" r="2.7" fill="#0a1f9c"/>
<circle cx="516.3" cy="207.54" r="2.7" fill="#0a1f9c"/>
<circle cx="521.15" cy="206.54" r="2.7" fill="#0a1f9c"/>
<circle cx="526" cy="205.67" r="2.7" fill="#0a1f9c"/>
<line x1="380.79" y1="300.58" x2="526" y2="250.4" stroke="#222" stroke-width="0.95" stroke-dasharray="5.6 2.1"/>
<line x1="283.45" y1="337.6" x2="379.66" y2="297.91" stroke="#111" stroke-width="0.9"/>
<g font-size="10" fill="#000">
<text x="283.7" y="349.05" text-anchor="middle">0</text>
<text x="332.2" y="349.05" text-anchor="middle">3</text>
<text x="380.69" y="349.05" text-anchor="middle">6</text>
<text x="429.19" y="349.05" text-anchor="middle">9</text>
<text x="477.68" y="349.05" text-anchor="middle">12</text>
<text x="526.18" y="349.05" text-anchor="middle">15</text>
<text x="280.4" y="341.85" text-anchor="end">0</text>
<text x="280.4" y="316.02" text-anchor="end">1</text>
<text x="280.4" y="290.19" text-anchor="end">2</text>
<text x="280.4" y="264.36" text-anchor="end">3</text>
<text x="280.4" y="238.53" text-anchor="end">4</text>
<text x="280.4" y="212.7" text-anchor="end">5</text>
</g>
<text font-size="12" fill="#000" y="367.2"><tspan x="367.44">time, </tspan><tspan font-style="italic" x="396.94">t</tspan><tspan x="407.54">[10</tspan><tspan font-size="7.5" dy="-4.3">4</tspan><tspan dy="4.3">Δ</tspan><tspan font-style="italic">t</tspan><tspan>]</tspan></text>
<g transform="translate(265 305.4) rotate(-90)"><text font-size="12" fill="#000" y="0"><tspan x="0">&lt;</tspan><tspan font-style="italic">r</tspan><tspan>&gt;</tspan><tspan font-size="7.5" dy="-4.3">2</tspan><tspan dy="4.3" x="30.6">[10</tspan><tspan font-size="7.5" dy="-4.3">3</tspan><tspan dy="4.3">Δ</tspan><tspan font-style="italic">x</tspan><tspan>]</tspan></text></g>
<text font-size="13" letter-spacing="0.7" fill="#000" x="252.5" y="203.6">(d)</text>
<circle cx="300.5" cy="211.5" r="3.7" fill="#0a1f9c"/>
<path d="M296.7 224.6L300.5 220.8L304.3 224.6L300.5 228.4Z" fill="#10c8c8"/>
<line x1="292.9" y1="237.1" x2="307.3" y2="237.1" stroke="#111" stroke-width="0.9"/>
<line x1="292.9" y1="250.1" x2="307" y2="250.1" stroke="#111" stroke-width="0.9" stroke-dasharray="5.8 2.4"/>
<g font-size="9.9" fill="#000">
<text x="310.8" y="214.2">top &amp; bottom (&lt;<tspan dx="1.3" font-style="italic">r</tspan><tspan font-size="7.2" dy="2.5">sur</tspan><tspan dy="-2.5">&gt;</tspan><tspan font-size="7.2" dy="-5">2</tspan><tspan dy="5">)</tspan></text>
<text x="310.8" y="227.1">middle (&lt;<tspan dx="1.0" font-style="italic">r</tspan><tspan font-size="7.0" dy="2.5">mid</tspan><tspan dy="-2.5" dx="-0.4">&gt;</tspan><tspan font-size="7.2" dy="-5">2</tspan><tspan dy="5">)</tspan></text>
<text x="310.8" y="240.2">sections of 3D bulk</text>
<text x="310.8" y="252.9">2D</text>
</g>
</g>
<rect x="72.7" y="76.8" width="59" height="10" fill="#fff"/>
<text font-size="10" fill="#000" x="73.7" y="83.8"><tspan font-style="italic">f</tspan><tspan font-size="7.4" dy="2.1">colum</tspan><tspan dy="-2.1" dx="1.2">=</tspan><tspan dx="1.6">0.513</tspan></text>
<line x1="70.8" y1="80.4" x2="61" y2="80.4" stroke="#444" stroke-width="0.8"/>
<path d="M59 80.4L62.6 78.85L62.6 81.95Z" fill="#111"/>
<text font-size="10" fill="#000" x="104.7" y="132.2"><tspan font-style="italic">f</tspan><tspan font-size="7.4" dy="2.1">colum</tspan><tspan dy="-2.1" dx="1.2">=</tspan><tspan dx="1.6">0.990</tspan></text>
<line x1="101.9" y1="128.9" x2="91.8" y2="128.9" stroke="#444" stroke-width="0.8"/>
<path d="M89.8 128.9L93.4 127.35L93.4 130.45Z" fill="#111"/>
<text font-size="10" fill="#000" x="399.1" y="122.1"><tspan font-style="italic">f</tspan><tspan font-size="7.4" dy="2.1">colum</tspan><tspan dy="-2.1" dx="1.2">=</tspan><tspan dx="1.6">0.990</tspan></text>
<line x1="396.7" y1="118.5" x2="388.8" y2="118.5" stroke="#444" stroke-width="0.8"/>
<path d="M386.8 118.5L390.4 116.95L390.4 120.05Z" fill="#111"/>
<text font-size="10" fill="#000" x="399.1" y="135.7"><tspan font-style="italic">f</tspan><tspan font-size="7.4" dy="2.1">colum</tspan><tspan dy="-2.1" dx="1.2">=</tspan><tspan dx="1.6">0.512</tspan></text>
<line x1="396.7" y1="132.1" x2="333.9" y2="132.1" stroke="#444" stroke-width="0.8"/>
<path d="M331.9 132.1L335.5 130.55L335.5 133.65Z" fill="#111"/>
<text font-size="10" fill="#000" x="122.9" y="315"><tspan font-style="italic">f</tspan><tspan font-size="7.4" dy="2.1">colum</tspan><tspan dy="-2.1" dx="1.2">=</tspan><tspan dx="1.6">0.990</tspan></text>
<line x1="180" y1="311" x2="190.1" y2="311" stroke="#444" stroke-width="0.8"/>
<path d="M192.1 311L188.5 309.45L188.5 312.55Z" fill="#111"/>
<text font-size="10" fill="#000" x="119.7" y="328.2"><tspan font-style="italic">f</tspan><tspan font-size="7.4" dy="2.1">colum</tspan><tspan dy="-2.1" dx="1.2">=</tspan><tspan dx="1.6">0.503</tspan></text>
<line x1="117.6" y1="324.2" x2="107" y2="324.2" stroke="#444" stroke-width="0.8"/>
<path d="M105 324.2L108.6 322.65L108.6 325.75Z" fill="#111"/>
<text font-size="10" fill="#000" x="437.3" y="315.6"><tspan font-style="italic">f</tspan><tspan font-size="7.4" dy="2.1">colum</tspan><tspan dy="-2.1" dx="1.2">=</tspan><tspan dx="1.6">0.991</tspan></text>
<line x1="492.8" y1="311.4" x2="517" y2="311.4" stroke="#444" stroke-width="0.8"/>
<path d="M519 311.4L515.4 309.85L515.4 312.95Z" fill="#111"/>
<text font-size="10" fill="#000" x="419.5" y="328"><tspan font-style="italic">f</tspan><tspan font-size="7.4" dy="2.1">colum</tspan><tspan dy="-2.1" dx="1.2">=</tspan><tspan dx="1.6">0.507</tspan></text>
<line x1="417.5" y1="324" x2="393.3" y2="324" stroke="#444" stroke-width="0.8"/>
<path d="M391.3 324L394.9 322.45L394.9 325.55Z" fill="#111"/>
</svg>
</body></html>
